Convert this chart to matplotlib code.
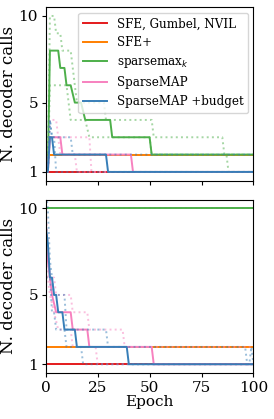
import matplotlib
matplotlib.use("Agg")
import matplotlib.pyplot as plt

plt.rcParams["font.family"] = ["DejaVu Serif"]
plt.rcParams["font.size"] = 11
plt.rcParams["xtick.major.size"] = 3
plt.rcParams["ytick.major.size"] = 3
plt.rcParams["xtick.major.pad"] = 2.5
plt.rcParams["ytick.major.pad"] = 2.5

methods = ["SFE, Gumbel, NVIL", "SFE+", r"sparsemax$_k$", "SparseMAP", "SparseMAP +budget"]
colors = ["#e41a1c", "#ff7f00", "#4daf4a", "#f781bf", "#377eb8"]

# --- panel de arriba: (epoch, llamadas) en los puntos de cambio ---
top_red_x = [0, 100]
top_red_y = [1, 1]
top_orange_x = [0, 100]
top_orange_y = [2, 2]
top_green_x = [0, 1, 2, 6, 7, 9, 10, 12, 14, 17, 19, 31, 32, 50, 51, 100]
top_green_y = [1, 1, 8, 8, 7, 7, 6, 6, 5, 5, 4, 4, 3, 3, 2, 2]
top_pink_x = [0, 1, 2, 7, 8, 41, 42, 100]
top_pink_y = [1, 1, 3, 3, 2, 2, 1, 1]
top_blue_x = [0, 1, 2, 3, 4, 29, 30, 100]
top_blue_y = [1, 1, 3, 3, 2, 2, 1, 1]

# corridas individuales (punteadas)
top_green_a_x = [0, 1, 2, 4, 5, 7, 8, 12, 13, 14, 15, 28, 29, 51, 52, 85, 86, 87, 88, 100]
top_green_a_y = [1, 1, 10, 10, 9, 9, 8, 8, 7, 6, 5, 5, 4, 4, 3, 3, 2, 2, 1, 1]
top_green_b_x = [0, 1, 2, 10, 12, 19, 21, 50, 51, 100]
top_green_b_y = [1, 1, 6, 6, 4, 4, 3, 3, 2, 2]
top_pink_a_x = [0, 1, 2, 5, 7, 14, 15, 100]
top_pink_a_y = [1, 1, 4, 4, 2, 2, 1, 1]
top_pink_b_x = [0, 1, 2, 21, 22, 100]
top_pink_b_y = [1, 1, 3, 3, 1, 1]
top_blue_a_x = [0, 1, 2, 3, 4, 5, 100]
top_blue_a_y = [1, 1, 4, 3, 3, 1, 1]
top_blue_b_x = [0, 1, 2, 3, 12, 13, 100]
top_blue_b_y = [1, 1, 4, 3, 3, 2, 2]

# --- panel de abajo ---
bot_red_x = [0, 100]
bot_red_y = [1, 1]
bot_orange_x = [0, 100]
bot_orange_y = [2, 2]
bot_green_x = [0, 100]
bot_green_y = [10, 10]
bot_pink_x = [0, 2, 3, 5, 12, 13, 20, 21, 51, 52, 100]
bot_pink_y = [8, 6, 5, 4, 4, 3, 3, 2, 2, 1, 1]
bot_blue_x = [0, 1, 2, 3, 4, 5, 6, 8, 9, 14, 15, 39, 40, 100]
bot_blue_y = [9, 8, 6, 6, 5, 5, 4, 4, 3, 3, 2, 2, 1, 1]

bot_green_a_x = [0, 100]
bot_green_a_y = [10, 10]
bot_pink_a_x = [0, 1, 2, 4, 5, 12, 13, 20, 21, 37, 38, 100]
bot_pink_a_y = [10, 8, 6, 6, 5, 5, 4, 4, 3, 3, 2, 2]
bot_pink_b_x = [0, 2, 4, 6, 12, 13, 24, 25, 100]
bot_pink_b_y = [7, 5, 4, 3, 3, 2, 2, 1, 1]
bot_blue_a_x = [0, 1, 2, 3, 4, 9, 10, 29, 30, 96, 97, 98, 99, 100]
bot_blue_a_y = [11, 10, 7, 6, 5, 5, 3, 3, 2, 2, 1, 1, 2, 1]
bot_blue_b_x = [0, 2, 3, 4, 5, 9, 10, 17, 18, 100]
bot_blue_b_y = [6, 6, 4, 4, 3, 3, 2, 2, 1, 1]

top_solid = [(top_red_x, top_red_y), (top_orange_x, top_orange_y), (top_green_x, top_green_y),
             (top_pink_x, top_pink_y), (top_blue_x, top_blue_y)]
top_runs = [[], [],
            [(top_green_a_x, top_green_a_y), (top_green_b_x, top_green_b_y)],
            [(top_pink_a_x, top_pink_a_y), (top_pink_b_x, top_pink_b_y)],
            [(top_blue_a_x, top_blue_a_y), (top_blue_b_x, top_blue_b_y)]]
bot_solid = [(bot_red_x, bot_red_y), (bot_orange_x, bot_orange_y), (bot_green_x, bot_green_y),
             (bot_pink_x, bot_pink_y), (bot_blue_x, bot_blue_y)]
bot_runs = [[], [],
            [(bot_green_a_x, bot_green_a_y)],
            [(bot_pink_a_x, bot_pink_a_y), (bot_pink_b_x, bot_pink_b_y)],
            [(bot_blue_a_x, bot_blue_a_y), (bot_blue_b_x, bot_blue_b_y)]]

fig = plt.figure(figsize=(2.74, 4.19), dpi=100)
ax1 = fig.add_axes([0.167, 0.569, 0.758, 0.4136])
ax2 = fig.add_axes([0.167, 0.110, 0.758, 0.4136])

for ax, solid, runs in [(ax1, top_solid, top_runs), (ax2, bot_solid, bot_runs)]:
    for i in range(len(methods)):
        for rx, ry in runs[i]:
            ax.plot(rx, ry, ":", color=colors[i], alpha=0.5, lw=1.4)
        ax.plot(solid[i][0], solid[i][1], "-", color=colors[i], lw=1.4, label=methods[i])
    ax.set_xlim(0, 100)
    ax.set_ylim(0.5, 10.5)
    ax.set_yticks([1, 5, 10])
    ax.set_xticks([0, 25, 50, 75, 100])
    ax.set_ylabel("N. decoder calls", fontsize=12, labelpad=1)

ax1.set_xticklabels([])
ax2.set_xlabel("Epoch", labelpad=0)
ax1.legend(loc="upper right", fontsize=8.6, borderaxespad=0.45, handlelength=2.0)

fig.savefig("out.png", dpi=100)
